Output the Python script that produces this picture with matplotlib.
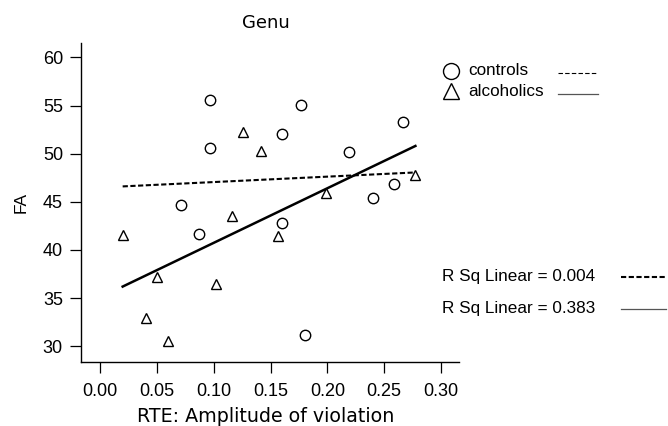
import matplotlib
matplotlib.use("Agg")
import matplotlib.pyplot as plt

plt.rcParams['font.family'] = ['Liberation Sans', 'DejaVu Sans']

# controls (circles)
controls_x = [0.0708, 0.0869, 0.0966, 0.0970, 0.1597, 0.1600, 0.1767, 0.1800,
              0.2190, 0.2400, 0.2590, 0.2667]
controls_fa = [44.7, 41.7, 50.6, 55.6, 42.8, 52.0, 55.1, 31.2,
               50.2, 45.4, 46.8, 53.3]

# alcoholics (triangles)
alcoholics_x = [0.0197, 0.0402, 0.0499, 0.0599, 0.1019, 0.1156, 0.1256,
                0.1415, 0.1564, 0.1987, 0.2776]
alcoholics_fa = [41.6, 32.9, 37.2, 30.6, 36.5, 43.5, 52.3,
                 50.3, 41.5, 45.9, 47.8]

# linear fit lines
fit_x = [0.0197, 0.2776]
controls_fit = [46.6, 48.05]
alcoholics_fit = [36.2, 50.8]
r_sq = ["0.004", "0.383"]

xticks = [0.00, 0.05, 0.10, 0.15, 0.20, 0.25, 0.30]
yticks = [30, 35, 40, 45, 50, 55, 60]

W, H = 668, 426
fig = plt.figure(figsize=(W / 100, H / 100), dpi=100)
ax = fig.add_axes([81 / W, (H - 362) / H, (459 - 81) / W, (362 - 42.7) / H])

ax.plot(fit_x, controls_fit, color='black', lw=1.5, ls=(0, (2.5, 1.2)))
ax.plot(fit_x, alcoholics_fit, color='black', lw=1.8)
ax.plot(controls_x, controls_fa, 'o', ms=7.5, mfc='white', mec='black', mew=1.0)
ax.plot(alcoholics_x, alcoholics_fa, '^', ms=7, mfc='white', mec='black', mew=1.0)

ax.set_xlim(-0.017, 0.316)
ax.set_ylim(28.37, 61.52)
ax.set_xticks(xticks)
ax.set_xticklabels([f"{t:.2f}" for t in xticks])
ax.set_yticks(yticks)
for s in ['top', 'right']:
    ax.spines[s].set_visible(False)
for s in ['left', 'bottom']:
    ax.spines[s].set_linewidth(1.0)
ax.tick_params(direction='out', length=8, width=0.9, labelsize=13)
ax.tick_params(axis='x', pad=7)
ax.tick_params(axis='y', pad=5)

fig.text(266 / W, 1 - 22.5 / H, "Genu", ha='center', va='center',
         fontsize=13, family='DejaVu Sans')
fig.text(265.5 / W, 1 - 417 / H, "RTE: Amplitude of violation", ha='center',
         va='center', fontsize=13.7, family='DejaVu Sans')
fig.text(21 / W, 1 - 202 / H, "FA", ha='center', va='center', rotation=90,
         fontsize=12.5)

# legend drawn in pixel coordinates on an overlay
lg = fig.add_axes([0, 0, 1, 1])
lg.set_xlim(0, W)
lg.set_ylim(H, 0)
lg.axis('off')
lg.plot([450.7], [70.7], 'o', ms=11.5, mfc='white', mec='black', mew=1.0)
lg.plot([450.7], [90.5], '^', ms=11.5, mfc='white', mec='black', mew=1.0)
lg.text(468, 70.7, "controls", va='center', fontsize=12.3)
lg.text(468, 92, "alcoholics", va='center', fontsize=12.3)
lg.plot([558, 598], [73, 73], color='black', lw=0.8, ls=(0, (4, 2)))
lg.plot([558, 598], [94, 94], color='#555555', lw=0.9)

lg.text(442, 276, f"R Sq Linear = {r_sq[0]}", va='center', fontsize=12.3)
lg.text(442, 309, f"R Sq Linear = {r_sq[1]}", va='center', fontsize=12.3)
lg.plot([621, 666], [276.7, 276.7], color='black', lw=1.5, ls=(0, (2.5, 1.2)))
lg.plot([621, 666], [309, 309], color='#555555', lw=0.9)

fig.savefig("out.png", dpi=100)
